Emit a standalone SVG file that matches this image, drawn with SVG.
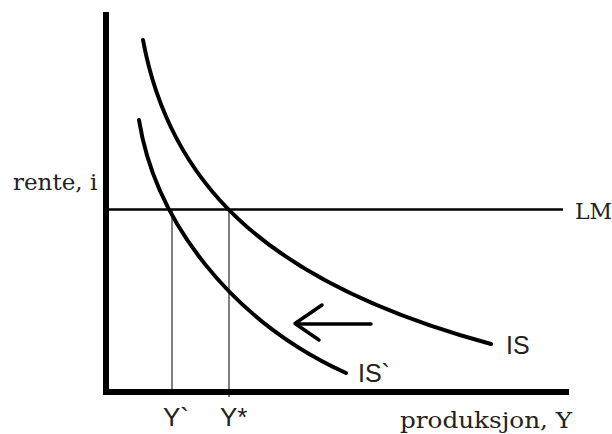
<svg xmlns="http://www.w3.org/2000/svg" width="612" height="434" viewBox="0 0 612 434">
<style>
.serif{font-family:"DejaVu Serif","Liberation Serif",serif;fill:#222}
.sans{font-family:"Liberation Sans",Arial,sans-serif;fill:#222}
.curve{fill:none;stroke:#000;stroke-width:4;stroke-linecap:round}
.axis{stroke:#000;stroke-width:6;fill:none}
.thin{stroke:#000;stroke-width:1;fill:none}
</style>
<rect width="612" height="434" fill="#fff"/>
<g id="axes">
<line class="axis" x1="106" y1="12" x2="106" y2="395"/>
<line class="axis" x1="103" y1="392" x2="569" y2="392"/>
</g>
<g id="connectors">
<line id="LM" x1="106" y1="209.5" x2="563" y2="209.5" stroke="#000" stroke-width="2.5"/>
<line class="thin" x1="172" y1="209" x2="172" y2="392"/>
<line class="thin" x1="229" y1="209" x2="229" y2="397"/>
<path id="IS" class="curve" d="M143,40 C168,175 255,280 491,344"/>
<path id="IS2" class="curve" d="M139,120 C155,220 230,320 346,373"/>
<g id="arrow" stroke="#000" stroke-width="3.5" fill="none" stroke-linecap="round" stroke-linejoin="round">
<line x1="371" y1="324" x2="296" y2="324"/>
<polyline points="322,305 295,323.5 319,340"/>
</g>
</g>
<g id="labels">
<text class="serif" x="13" y="190" font-size="23">rente, i</text>
<text class="serif" x="575" y="219" font-size="22">LM</text>
<text class="serif" x="400" y="428" font-size="23" textLength="172" lengthAdjust="spacingAndGlyphs">produksjon, Y</text>
<text class="sans" x="163" y="426" font-size="26">Y`</text>
<text class="sans" x="220" y="426" font-size="26">Y*</text>
<text class="sans" x="506" y="354" font-size="25">IS</text>
<text class="sans" x="358" y="382" font-size="25">IS`</text>
</g>
</svg>
